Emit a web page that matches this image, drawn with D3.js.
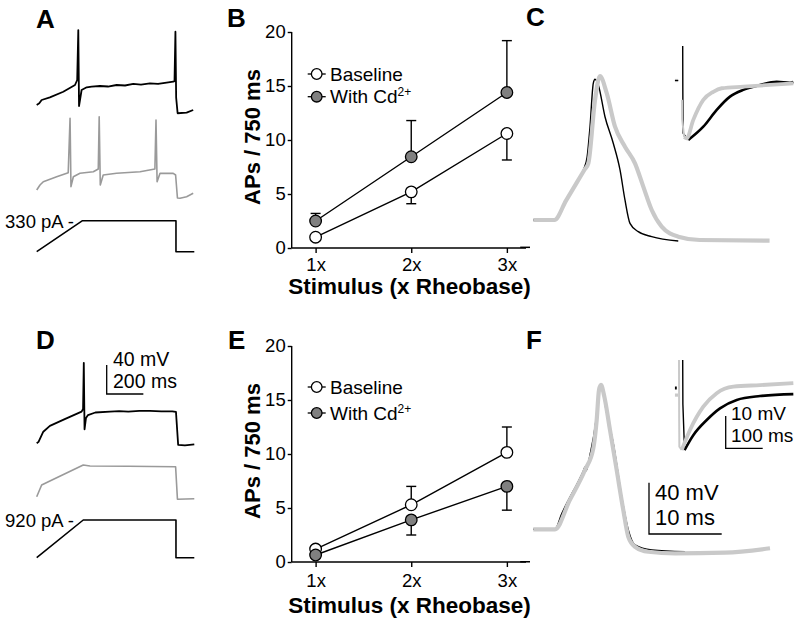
<!DOCTYPE html>
<html><head><meta charset="utf-8">
<script src="https://cdn.jsdelivr.net/npm/d3@7"></script>
<style>
body{margin:0;background:#fff}
svg{display:block}
text{font-family:"Liberation Sans",Arial,Helvetica,sans-serif;fill:#000}
</style>
</head><body>
<svg id="fig" width="800" height="625"></svg>
<script>
// ---------------- DATA ----------------
const stimulusLevels = [1, 2, 3];
const stimulusLabels = ["1x", "2x", "3x"];
const apTicks = [0, 5, 10, 15, 20];
const seriesNames = ["Baseline", "With Cd"];

// Panel B (APs / 750 ms)
const bBaseline = [1.0, 5.2, 10.6];
const bBaselineErr = [0.3, 1.1, 2.45];
const bCd = [2.5, 8.45, 14.4];
const bCdErr = [0.7, 3.35, 4.8];
// Panel E
const eBaseline = [1.2, 5.3, 10.15];
const eBaselineErr = [0.3, 1.7, 2.35];
const eCd = [0.65, 3.9, 7.0];
const eCdErr = [0.3, 1.4, 2.2];

// Panel A traces [ms, mV]
const aBaselineTrace = [[0,-70],[14,-67.7],[27,-63.1],[72,-59.4],[145,-51.7],[209,-42.4],[221,-35.5],[227,33.4],[231,-71.4],[245,-49.3],[273,-45.6],[300,-44.6],[345,-43.8],[389,-44.5],[436,-42.4],[482,-43.1],[527,-41],[569,-41.9],[618,-40.1],[662,-41],[709,-39.2],[745,-37.9],[752,-37],[757,31.1],[761,-60],[769,-81.4],[818,-80.6],[854,-76.9]];
const aCdTrace = [[0,-70],[18,-63.1],[36,-58.6],[109,-51.7],[172,-46.1],[182,28.9],[187,-65.4],[200,-51.7],[236,-47],[309,-44.8],[336,-41],[341,31.1],[347,-63.1],[363,-49.3],[436,-47],[564,-44.8],[645,-41],[651,26.6],[657,-58.6],[673,-47],[745,-47],[758,-49.3],[768,-81],[782,-81.4],[818,-79.2],[854,-74.6]];
const aCurrent = [[0,0],[250,330],[760,330],[760,0],[860,0]];
const aCurrentLabel = "330 pA -";

// Panel D traces [ms, mV]
const dBaselineTrace = [[0,-70],[10,-68],[36,-54],[72,-46],[150,-37],[245,-26.4],[253,-22.7],[257,41],[261,-50.7],[269,-35],[280,-31],[320,-27.5],[400,-26.4],[450,-25.7],[500,-26.2],[560,-25.2],[618,-25.4],[680,-25.9],[740,-26],[760,-26.8],[772,-72.3],[809,-73],[860,-71.4]];
const dCdTrace = [[0,-70],[27,-53.9],[72,-48.3],[254,-26.3],[291,-27.7],[500,-28],[758,-28.6],[768,-73.6],[860,-72.8]];
const dCurrent = [[0,0],[254,920],[760,920],[760,0],[860,0]];
const dCurrentLabel = "920 pA -";

// Panel C action potentials [ms, mV]
const cBaselineAP = [[0,-60],[2.9,-60],[4.5,-45],[6.0,-30.2],[7.0,-19.5],[7.4,-11],[7.8,12.7],[8.25,46.5],[8.49,49.7],[8.94,45.2],[9.86,20.5],[11.0,-0.2],[11.93,-21],[12.61,-44.4],[13.3,-62.6],[14.44,-69.1],[16.29,-73],[19.94,-76.4]];
const cCdAP = [[0,-60],[2.9,-60],[4.5,-44.9],[6.0,-30.7],[7.0,-21.2],[7.57,-15.8],[8.49,33.5],[9.17,52.2],[10.1,38.8],[11.24,12.7],[12.61,-2.9],[13.99,-15.8],[15.13,-34],[16.29,-52.2],[17.66,-65.2],[19.94,-73],[22.9,-75.6],[32.5,-76.1]];
const cBaselineSpike = [[0,-49.3],[0.3,-62],[1,-76.3],[15.1,-78.4]];
const cBaselineAHP = [[15.1,-78.4],[55.7,-74.3],[91.9,-69.1],[127.8,-65],[163.8,-62.9],[208.9,-61.4],[254,-60.4],[290,-60.7],[299,-60.5]];
const cCdSpike = [[-2,-66],[-1.5,-72],[4,-77.5]];
const cCdAHP = [[4,-77.5],[10.8,-77.9],[28.6,-72.2],[55.7,-66],[82.7,-63.5],[105.4,-62.4],[163.8,-61.9],[299,-60.9]];
const cPreAHP = [[-21,-60],[-12,-60]];
const cRestMark = [[-1.8,-81.3],[-0.45,-81.3]];

// Panel F action potentials [ms, mV]
const fBaselineAP = [[0,-60],[2.98,-60],[3.9,-48],[6.88,-14.5],[7.11,-11.5],[7.25,-14.5],[7.8,-2],[8.62,25],[9.04,48.6],[9.31,51.7],[10.1,30.4],[11,7],[12.16,-34.6],[13.07,-60.5],[13.99,-72.2],[16.29,-76.1],[20.87,-77.5]];
const fCdAP = [[0,-60],[2.98,-60],[5.0,-37.4],[7.11,-13.8],[8.25,3.1],[8.72,25.2],[9.04,48.6],[9.31,52.5],[9.77,43.4],[10.55,17.4],[11.47,-13.8],[12.38,-45],[13.07,-65.8],[13.99,-73.6],[15.82,-77.5],[19.49,-78.7],[26.37,-78.2],[32.56,-74.8]];
const fBaselineSpike = [[0,-51.3],[0.5,-65],[4.9,-79.2]];
const fBaselineAHP = [[4.9,-79.2],[28.6,-74.6],[64.9,-69.9],[100.8,-66.3],[146,-63.7],[209,-62.5],[299,-61.9]];
const fCdSpike = [[-10,-51.3],[-9.5,-70],[-9,-78.2],[-2.7,-79.2]];
const fCdAHP = [[-2.7,-79.2],[19.7,-73],[55.7,-65.8],[91.9,-61.6],[136.8,-59.6],[208.9,-59.1],[299,-58.5]];
const fPreBaseline = [[-21,-60],[-16,-60]];
const fPreCd = [[-21,-62.2],[-12,-62.2]];
const fRestMark = [[-1.8,-85.3],[-0.45,-85.3]];

// scale bar values
const traceBar = {mV: 40, ms: 200};
const apBar = {mV: 40, ms: 10};
const ahpBar = {mV: 10, ms: 100};

// ---------------- DRAW ----------------
const svg = d3.select("#fig");
const FONT = '"Liberation Sans",Arial,Helvetica,sans-serif';
const GRAY_TRACE = "#9a9a9a";
const LIGHT = "#c9c9c9";
const CD_FILL = "#808080";

function panelLetter(txt, x, y) {
  svg.append("text").attr("x", x).attr("y", y).attr("font-size", 26)
    .attr("font-weight", "bold").text(txt);
}
function drawPath(data, xs, ys, color, w, curve) {
  const line = d3.line().x(d => xs(d[0])).y(d => ys(d[1]));
  if (curve) line.curve(curve);
  svg.append("path").datum(data).attr("d", line)
    .attr("fill", "none").attr("stroke", color).attr("stroke-width", w)
    .attr("stroke-linejoin", "round").attr("stroke-linecap", "butt");
}

// ---- Panels A & D (firing traces) ----
const pxPerMV = 0.725;
function tracePanel(cfg) {
  const xs = d3.scaleLinear().domain([0, 860]).range([36.7, 194.3]);
  const yB = d3.scaleLinear().domain([-70, 0]).range([cfg.baseB, cfg.baseB - 70 * pxPerMV]);
  const yC = d3.scaleLinear().domain([-70, 0]).range([cfg.baseC, cfg.baseC - 70 * pxPerMV]);
  const yI = d3.scaleLinear().domain([0, cfg.amp]).range([cfg.i0, cfg.i1]);
  drawPath(cfg.cd, xs, yC, GRAY_TRACE, 1.6);
  drawPath(cfg.base, xs, yB, "#000", 1.8);
  drawPath(cfg.current, xs, yI, "#000", 1.6);
  svg.append("text").attr("x", 74).attr("y", yI(cfg.amp) + 7)
    .attr("text-anchor", "end").attr("font-size", 18.5).text(cfg.label);
  return {xs, yB};
}
panelLetter("A", 36, 28);
tracePanel({base: aBaselineTrace, cd: aCdTrace, current: aCurrent, amp: 330, label: aCurrentLabel,
  baseB: 105, baseC: 190, i0: 251.7, i1: 220.7});
panelLetter("D", 36, 349);
const dp = tracePanel({base: dBaselineTrace, cd: dCdTrace, current: dCurrent, amp: 920, label: dCurrentLabel,
  baseB: 443.3, baseC: 496.7, i0: 557.7, i1: 520});
// D scale bar
{
  const bx = 106.7, by = 394;
  const len = dp.xs(traceBar.ms) - dp.xs(0);
  const hgt = traceBar.mV * pxPerMV;
  svg.append("path").attr("d", `M${bx},${by - hgt}V${by}H${bx + len}`)
    .attr("fill", "none").attr("stroke", "#000").attr("stroke-width", 1.3);
  svg.append("text").attr("x", 113).attr("y", 366).attr("font-size", 19.5).text(traceBar.mV + " mV");
  svg.append("text").attr("x", 113).attr("y", 387.5).attr("font-size", 19.5).text(traceBar.ms + " ms");
}

// ---- Panels B & E (APs vs stimulus) ----
function apPlot(cfg) {
  const xs = d3.scaleLinear().domain([0.75, 3.2]).range([291.7, 526]);
  const ys = d3.scaleLinear().domain([0, 20]).range([cfg.y0, cfg.y20]);
  const ax = svg.append("g").attr("transform", `translate(0,${cfg.y0})`)
    .call(d3.axisBottom(xs).tickValues(stimulusLevels).tickFormat((d, i) => stimulusLabels[i])
      .tickSize(5).tickSizeOuter(0).tickPadding(cfg.tickPad));
  const ay = svg.append("g").attr("transform", `translate(291.7,0)`)
    .call(d3.axisLeft(ys).tickValues(apTicks).tickSize(4).tickSizeOuter(0).tickPadding(2));
  [ax, ay].forEach(g => {
    g.selectAll("text").attr("font-size", 18.5).attr("font-family", FONT).attr("fill", "#000");
    g.selectAll("path,line").attr("stroke", "#000").attr("stroke-width", 1.4);
  });
  ay.select(".domain").attr("d", `M0,${cfg.y0}V${cfg.y20}`);
  ax.select(".domain").attr("d", `M291.7,0H526`);
  svg.append("text").attr("x", 409.5).attr("y", cfg.y0 + cfg.titleOff).attr("text-anchor", "middle")
    .attr("font-size", 22.5).attr("font-weight", "bold").text("Stimulus (x Rheobase)");
  svg.append("text").attr("transform", `translate(260,${(cfg.y0 + cfg.y20) / 2 - 3}) rotate(-90)`)
    .attr("text-anchor", "middle").attr("font-size", 22).attr("font-weight", "bold").text("APs / 750 ms");

  const series = [
    {vals: cfg.base, err: cfg.baseErr, dir: cfg.baseDir, fill: "#fff"},
    {vals: cfg.cd, err: cfg.cdErr, dir: cfg.cdDir, fill: CD_FILL}
  ];
  series.forEach(s => {
    s.vals.forEach((v, i) => {
      const x = xs(stimulusLevels[i]);
      const ye = ys(v + s.dir * s.err[i]);
      svg.append("line").attr("x1", x).attr("x2", x).attr("y1", ys(v)).attr("y2", ye)
        .attr("stroke", "#000").attr("stroke-width", 1.4);
      svg.append("line").attr("x1", x - 5).attr("x2", x + 5).attr("y1", ye).attr("y2", ye)
        .attr("stroke", "#000").attr("stroke-width", 1.4);
    });
  });
  series.forEach(s => {
    const line = d3.line().x((d, i) => xs(stimulusLevels[i])).y(d => ys(d));
    svg.append("path").datum(s.vals).attr("d", line).attr("fill", "none")
      .attr("stroke", "#000").attr("stroke-width", 1.4);
  });
  series.forEach(s => {
    svg.selectAll(null).data(s.vals).enter().append("circle")
      .attr("cx", (d, i) => xs(stimulusLevels[i])).attr("cy", d => ys(d)).attr("r", 5.8)
      .attr("fill", s.fill).attr("stroke", "#000").attr("stroke-width", 1.3);
  });
  const lx = 316.7;
  cfg.legendY.forEach((ly, i) => {
    svg.append("line").attr("x1", lx - 9).attr("x2", lx + 9).attr("y1", ly).attr("y2", ly)
      .attr("stroke", "#000").attr("stroke-width", 1.3);
    svg.append("circle").attr("cx", lx).attr("cy", ly).attr("r", 5.3)
      .attr("fill", series[i].fill).attr("stroke", "#000").attr("stroke-width", 1.3);
    const t = svg.append("text").attr("x", 330).attr("y", ly + 6.5).attr("font-size", 19).text(seriesNames[i]);
    if (i === 1) t.append("tspan").attr("font-size", 12).attr("dy", -7).text("2+");
  });
}
panelLetter("B", 227, 27);
apPlot({y0: 248, y20: 32, tickPad: 4.5, titleOff: 46, base: bBaseline, baseErr: bBaselineErr, baseDir: -1,
  cd: bCd, cdErr: bCdErr, cdDir: 1, legendY: [74, 96.7]});
panelLetter("E", 228, 349);
apPlot({y0: 562, y20: 346, tickPad: 7, titleOff: 50.5, base: eBaseline, baseErr: eBaselineErr, baseDir: 1,
  cd: eCd, cdErr: eCdErr, cdDir: -1, legendY: [387, 413]});

// ---- Panels C & F (AP waveforms + AHP insets) ----
const apPxPerMV = 1.283, ahpPxPerMV = 3.23;
function apPanel(cfg) {
  const xs = d3.scaleLinear().domain([0, 32.56]).range([533.3, 770]);
  const ys = d3.scaleLinear().domain([-60, 40]).range([cfg.base, cfg.base - 100 * apPxPerMV]);
  const xi = d3.scaleLinear().domain([0, 300]).range([682.7, 793.7]);
  const yi = d3.scaleLinear().domain([-60, -50]).range([cfg.ibase, cfg.ibase - 10 * ahpPxPerMV]);
  drawPath(cfg.rest, xs, ys, "#000", 1.5);
  drawPath(cfg.baseAP, xs, ys, "#000", 1.4, d3.curveMonotoneX);
  drawPath(cfg.cdAP, xs, ys, LIGHT, 4.2, d3.curveMonotoneX);
  drawPath(cfg.preCd, xi, yi, LIGHT, 3.2);
  drawPath(cfg.baseSpike, xi, yi, "#000", 1.4);
  drawPath(cfg.baseAHP, xi, yi, "#000", 2.6, d3.curveMonotoneX);
  drawPath(cfg.cdSpike, xi, yi, LIGHT, 2);
  drawPath(cfg.cdAHP, xi, yi, LIGHT, 3.8, d3.curveMonotoneX);
  drawPath(cfg.preBase, xi, yi, "#000", cfg.preW);
  return {xs, ys, xi, yi};
}
panelLetter("C", 526, 26);
apPanel({base: 220, ibase: 80.5, baseAP: cBaselineAP, cdAP: cCdAP, baseSpike: cBaselineSpike, baseAHP: cBaselineAHP,
  cdSpike: cCdSpike, cdAHP: cCdAHP, preBase: cPreAHP, preCd: cPreAHP, preW: 1.2, rest: cRestMark});
panelLetter("F", 526, 349);
const fp = apPanel({base: 529.3, ibase: 388, baseAP: fBaselineAP, cdAP: fCdAP, baseSpike: fBaselineSpike, baseAHP: fBaselineAHP,
  cdSpike: fCdSpike, cdAHP: fCdAHP, preBase: fPreBaseline, preCd: fPreCd, preW: 3, rest: fRestMark});
// F scale bars
{
  const bx = 649, by = 534;
  const len = fp.xs(apBar.ms) - fp.xs(0);
  const hgt = apBar.mV * apPxPerMV;
  svg.append("path").attr("d", `M${bx},${by - hgt}V${by}H${bx + len}`)
    .attr("fill", "none").attr("stroke", "#000").attr("stroke-width", 1.3);
  svg.append("text").attr("x", 655).attr("y", 499.5).attr("font-size", 22).text(apBar.mV + " mV");
  svg.append("text").attr("x", 655).attr("y", 524.5).attr("font-size", 22).text(apBar.ms + " ms");
  const ix = 725.7, iy = 448.3;
  const ilen = fp.xi(ahpBar.ms) - fp.xi(0);
  const ihgt = ahpBar.mV * ahpPxPerMV;
  svg.append("path").attr("d", `M${ix},${iy - ihgt}V${iy}H${ix + ilen}`)
    .attr("fill", "none").attr("stroke", "#000").attr("stroke-width", 1.3);
  svg.append("text").attr("x", 731).attr("y", 419.5).attr("font-size", 19).text(ahpBar.mV + " mV");
  svg.append("text").attr("x", 731).attr("y", 441.7).attr("font-size", 19).text(ahpBar.ms + " ms");
}
</script>
</body></html>
